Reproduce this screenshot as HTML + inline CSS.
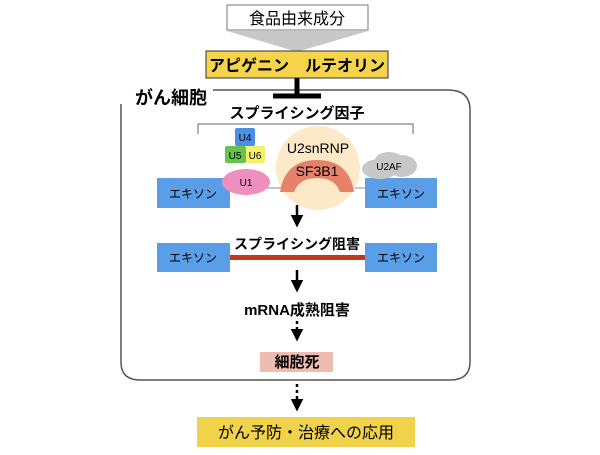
<!DOCTYPE html>
<html><head><meta charset="utf-8"><style>
body{margin:0;width:600px;height:450px;background:#fff;overflow:hidden}
svg text{font-family:"Liberation Sans","Noto Sans CJK JP",sans-serif}
</style></head><body>
<svg width="600" height="450" viewBox="0 0 600 450">
<defs><marker id="ah" markerWidth="5" markerHeight="5" refX="2" refY="2.5" orient="auto" markerUnits="strokeWidth"><path d="M0,0 L5,2.5 L0,5Z" fill="#000"/></marker></defs>
<rect x="227" y="5" width="141" height="25" fill="#fff" stroke="#777"/>
<text x="297" y="24" font-size="16" text-anchor="middle">食品由来成分</text>
<polygon points="227,31 368,31 300,51 294,51" fill="#c8c8c8"/>
<rect x="206" y="51" width="182" height="27" fill="#f5d44b" stroke="#333"/>
<text x="297" y="71" font-size="16" font-weight="bold" text-anchor="middle">アピゲニン　ルテオリン</text>
<path d="M213,90 H448 Q470,90 470,110 V362 Q470,380 450,380 H140 Q121,380 121,362 V104" fill="none" stroke="#555" stroke-width="1.5"/>
<text x="135" y="104" font-size="18" font-weight="bold">がん細胞</text>
<line x1="297" y1="78" x2="297" y2="95" stroke="#000" stroke-width="5"/>
<line x1="273" y1="96" x2="321" y2="96" stroke="#000" stroke-width="5"/>
<text x="297" y="118" font-size="15" font-weight="bold" text-anchor="middle">スプライシング因子</text>
<path d="M198,134 V124 H413 V134" fill="none" stroke="#666"/>
<line x1="230" y1="188" x2="365" y2="188" stroke="#888"/>
<circle cx="318" cy="168" r="42" fill="#fce9c8"/>
<path d="M280,192 Q285,160 317,160 Q349,160 354,192 L340,192 Q335,178 317,178 Q299,178 294,192Z" fill="#e6826a"/>
<text x="318" y="153" font-size="14" text-anchor="middle">U2snRNP</text>
<text x="317" y="176" font-size="14" text-anchor="middle">SF3B1</text>
<rect x="235" y="128" width="20" height="18" rx="2" fill="#4a90e2"/>
<text x="245" y="141" font-size="10" text-anchor="middle">U4</text>
<rect x="225" y="146" width="21" height="17" rx="2" fill="#66c44a"/>
<text x="235" y="159" font-size="10" text-anchor="middle">U5</text>
<rect x="246" y="146" width="19" height="17" rx="2" fill="#f5f06a"/>
<text x="255" y="159" font-size="10" text-anchor="middle">U6</text>
<rect x="157" y="178" width="73" height="30" fill="#5b9ee8"/>
<text x="193" y="198" font-size="12" text-anchor="middle">エキソン</text>
<rect x="365" y="178" width="72" height="30" fill="#5b9ee8"/>
<text x="401" y="198" font-size="12" text-anchor="middle">エキソン</text>
<ellipse cx="246" cy="182" rx="24" ry="13" fill="#ee8fc0"/>
<text x="246" y="186" font-size="10" text-anchor="middle">U1</text>
<g fill="#c8c8c8"><ellipse cx="380" cy="169" rx="18" ry="10"/><ellipse cx="402" cy="166" rx="15" ry="11"/><ellipse cx="389" cy="160" rx="14" ry="8"/></g>
<text x="389" y="170" font-size="10" text-anchor="middle">U2AF</text>
<line x1="297" y1="205" x2="297" y2="220" stroke="#000" stroke-width="2.5" marker-end="url(#ah)"/>
<text x="297" y="249" font-size="14" font-weight="bold" text-anchor="middle">スプライシング阻害</text>
<rect x="157" y="243" width="73" height="29" fill="#5b9ee8"/>
<text x="193" y="262" font-size="12" text-anchor="middle">エキソン</text>
<rect x="365" y="243" width="72" height="29" fill="#5b9ee8"/>
<text x="401" y="262" font-size="12" text-anchor="middle">エキソン</text>
<rect x="230" y="255" width="135" height="5" fill="#c0391b"/>
<line x1="297" y1="270" x2="297" y2="285" stroke="#000" stroke-width="2.5" marker-end="url(#ah)"/>
<text x="297" y="315" font-size="15" font-weight="bold" text-anchor="middle">mRNA成熟阻害</text>
<line x1="297" y1="321" x2="297" y2="334" stroke="#000" stroke-width="2.5" stroke-dasharray="3,3" marker-end="url(#ah)"/>
<rect x="260" y="352" width="73" height="20" fill="#efbdb0"/>
<text x="297" y="367" font-size="15" font-weight="bold" text-anchor="middle">細胞死</text>
<line x1="297" y1="384" x2="297" y2="404" stroke="#000" stroke-width="2.5" stroke-dasharray="3,3" marker-end="url(#ah)"/>
<rect x="197" y="417" width="218" height="30" fill="#f0d24b"/>
<text x="306" y="438" font-size="16" text-anchor="middle">がん予防・治療への応用</text>
</svg>
</body></html>
